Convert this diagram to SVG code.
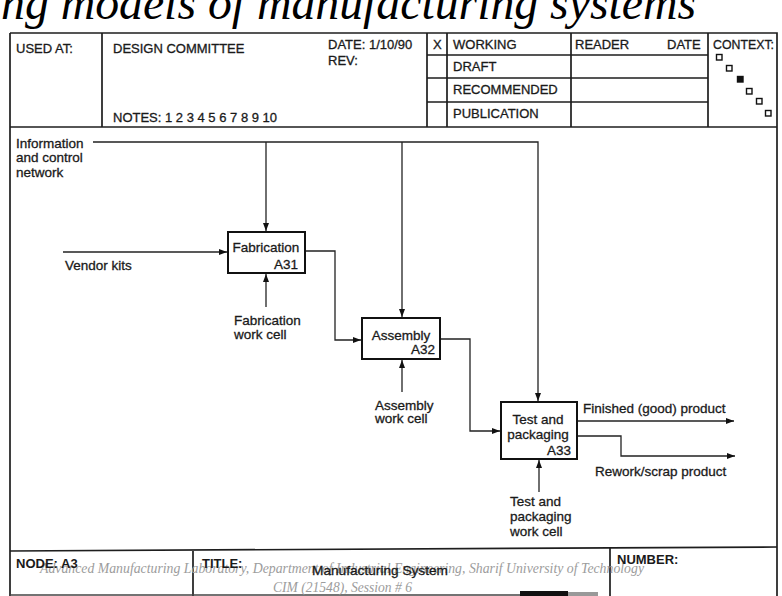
<svg xmlns="http://www.w3.org/2000/svg" width="782" height="596" viewBox="0 0 782 596">
<style>
.t{font-family:"Liberation Sans",Arial,Helvetica,sans-serif;font-size:13px;fill:#1a1a1a;stroke:#1a1a1a;stroke-width:0.3}
.l{font-size:13.5px}
.b{font-weight:bold;stroke-width:0}
.wm{font-family:"Liberation Serif","Times New Roman",serif;font-style:italic;fill:#9c9c9c;font-size:14px}
.ttl{font-family:"Liberation Serif","Times New Roman",serif;font-style:italic;fill:#000;font-size:48px}
.fr{stroke:#1e1e1e;stroke-width:1.7;fill:none}
.ln{stroke:#222;stroke-width:1.3;fill:none}
.box{fill:#fff;stroke:#111;stroke-width:2}
</style>
<defs>
<marker id="ah" markerWidth="8" markerHeight="6" refX="8" refY="3" orient="auto" markerUnits="userSpaceOnUse">
<path d="M0,0 L8,3 L0,6 z" fill="#111"/>
</marker>
</defs>
<rect width="782" height="596" fill="#fff"/>

<text class="ttl" x="1" y="19" textLength="695" lengthAdjust="spacingAndGlyphs">ng models of manufacturing systems</text>

<g id="form">
<path class="fr" d="M10,33 H777 V548 M10,33 V596 M777,548 V596"/>
<path class="fr" d="M10,127 H777"/>
<path class="fr" d="M10,551 L777,547"/>
<path class="fr" d="M102,33 V127 M427,33 V127 M447,33 V127 M571,33 V127 M708,33 V127"/>
<path class="fr" d="M427,55 H708 M427,78 H708 M427,102 H708"/>
<path class="fr" d="M193,551 V596 M610,547 V596"/>
<path d="M10,595 H520" stroke="#444" stroke-width="1.4"/>
<rect x="520" y="591" width="48" height="5" fill="#111"/>
<rect x="568" y="592" width="30" height="4" fill="#999"/>
<text class="t" x="16" y="53">USED AT:</text>
<text class="t" x="113" y="53">DESIGN COMMITTEE</text>
<text class="t" x="328" y="49">DATE: 1/10/90</text>
<text class="t" x="328" y="65">REV:</text>
<text class="t" x="433" y="49">X</text>
<text class="t" x="453" y="49">WORKING</text>
<text class="t" x="453" y="71">DRAFT</text>
<text class="t" x="453" y="94">RECOMMENDED</text>
<text class="t" x="453" y="118">PUBLICATION</text>
<text class="t" x="575" y="49">READER</text>
<text class="t" x="667" y="49">DATE</text>
<text class="t" x="713" y="49" textLength="61" lengthAdjust="spacingAndGlyphs">CONTEXT:</text>
<text class="t" x="113" y="122">NOTES: 1 2 3 4 5 6 7 8 9 10</text>
<g fill="#fff" stroke="#111" stroke-width="1.4">
<rect x="716.5" y="54.5" width="5.5" height="5.5"/>
<rect x="726.5" y="65.5" width="5.5" height="5.5"/>
<rect x="737.5" y="76.5" width="5.5" height="5.5" fill="#111"/>
<rect x="746.5" y="88.5" width="5.5" height="5.5"/>
<rect x="756.5" y="98.5" width="5.5" height="5.5"/>
<rect x="765.5" y="110.5" width="5.5" height="5.5"/>
</g>
<text class="wm" x="40" y="573" textLength="604" lengthAdjust="spacingAndGlyphs">Advanced Manufacturing Laboratory, Department of Industrial Engineering, Sharif University of Technology</text>
<text class="wm" x="273" y="592" textLength="139" lengthAdjust="spacingAndGlyphs">CIM (21548), Session # 6</text>
<text class="t b" x="16" y="568">NODE: A3</text>
<text class="t b" x="202" y="568">TITLE:</text>
<text class="t" x="312" y="575" textLength="136" lengthAdjust="spacingAndGlyphs">Manufacturing System</text>
<text class="t b" x="617" y="564">NUMBER:</text>
</g>

<g id="connectors">
<path class="ln" d="M93,142 H538 V401" marker-end="url(#ah)"/>
<path class="ln" d="M266,142 V231" marker-end="url(#ah)"/>
<path class="ln" d="M402,142 V317" marker-end="url(#ah)"/>
<path class="ln" d="M63,252 H227" marker-end="url(#ah)"/>
<path class="ln" d="M266,307 V274" marker-end="url(#ah)"/>
<path class="ln" d="M305,251 H335 V340 H361" marker-end="url(#ah)"/>
<path class="ln" d="M402,392 V360" marker-end="url(#ah)"/>
<path class="ln" d="M440,339 H470 V431 H500" marker-end="url(#ah)"/>
<path class="ln" d="M539,492 V460" marker-end="url(#ah)"/>
<path class="ln" d="M577,421 H734" marker-end="url(#ah)"/>
<path class="ln" d="M577,436 H621 V456 H735" marker-end="url(#ah)"/>
</g>

<g id="labels">
<text class="t l" x="16" y="148">Information</text>
<text class="t l" x="16" y="162">and control</text>
<text class="t l" x="16" y="177">network</text>
<text class="t l" x="65" y="270">Vendor kits</text>
<text class="t l" x="234" y="325">Fabrication</text>
<text class="t l" x="234" y="339">work cell</text>
<text class="t l" x="375" y="410">Assembly</text>
<text class="t l" x="375" y="423">work cell</text>
<text class="t l" x="510" y="506">Test and</text>
<text class="t l" x="510" y="521">packaging</text>
<text class="t l" x="510" y="536">work cell</text>
<text class="t l" x="583" y="413">Finished (good) product</text>
<text class="t l" x="595" y="476">Rework/scrap product</text>
</g>

<g id="A31">
<rect class="box" x="228" y="232" width="77" height="41"/>
<text class="t l" x="266" y="252" text-anchor="middle">Fabrication</text>
<text class="t l" x="298" y="269" text-anchor="end">A31</text>
</g>
<g id="A32">
<rect class="box" x="362" y="318" width="78" height="41"/>
<text class="t l" x="401" y="340" text-anchor="middle">Assembly</text>
<text class="t l" x="435" y="354" text-anchor="end">A32</text>
</g>
<g id="A33">
<rect class="box" x="501" y="402" width="76" height="57"/>
<text class="t l" x="538" y="424" text-anchor="middle">Test and</text>
<text class="t l" x="538" y="439" text-anchor="middle">packaging</text>
<text class="t l" x="571" y="455" text-anchor="end">A33</text>
</g>
</svg>
